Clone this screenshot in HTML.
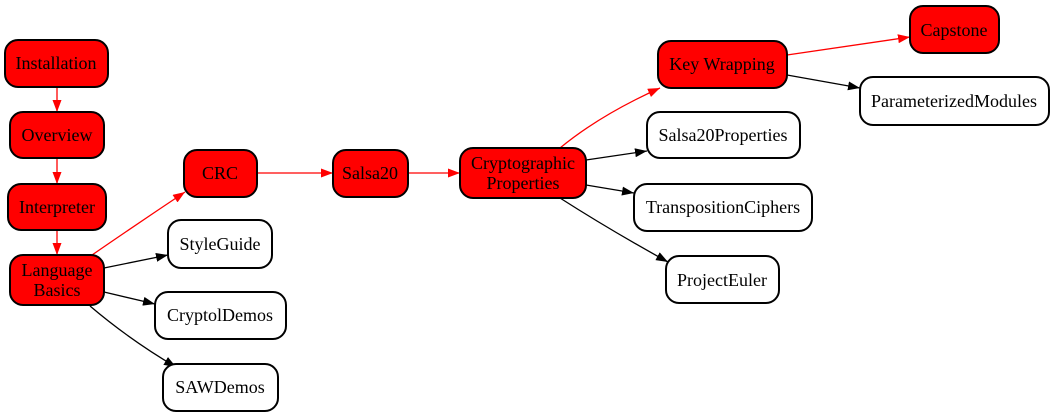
<!DOCTYPE html>
<html><head><style>
body{margin:0;background:#fff;}
svg{display:block;}
text{font-family:"Liberation Serif","DejaVu Serif",serif;font-size:18px;text-anchor:middle;}
</style></head><body>
<svg width="1056" height="419" viewBox="0 0 1056 419" xmlns="http://www.w3.org/2000/svg">
<defs>
<marker id="ar" markerWidth="12" markerHeight="9" refX="12" refY="4.5" orient="auto" markerUnits="userSpaceOnUse"><path d="M0,0 L12,4.5 L0,9 Z" fill="#f00"/></marker>
<marker id="ab" markerWidth="12" markerHeight="9" refX="12" refY="4.5" orient="auto" markerUnits="userSpaceOnUse"><path d="M0,0 L12,4.5 L0,9 Z" fill="#000"/></marker>
</defs>
<g fill="none" stroke-width="1.3">
<path d="M57,87 L57,112" stroke="#f00" marker-end="url(#ar)"/>
<path d="M57,158 L57,184" stroke="#f00" marker-end="url(#ar)"/>
<path d="M57,230 L57,255" stroke="#f00" marker-end="url(#ar)"/>
<path d="M92,255 Q140,222 185,192" stroke="#f00" marker-end="url(#ar)"/>
<path d="M104,268 L168,255" stroke="#000" marker-end="url(#ab)"/>
<path d="M104,292 L155,304" stroke="#000" marker-end="url(#ab)"/>
<path d="M90,306 Q130,340 176,367" stroke="#000" marker-end="url(#ab)"/>
<path d="M257,173 L333,173" stroke="#f00" marker-end="url(#ar)"/>
<path d="M408,173 L460,173" stroke="#f00" marker-end="url(#ar)"/>
<path d="M560,148 Q600,115 660,88" stroke="#f00" marker-end="url(#ar)"/>
<path d="M586,160 L647,151" stroke="#000" marker-end="url(#ab)"/>
<path d="M586,185 L634,193" stroke="#000" marker-end="url(#ab)"/>
<path d="M560,198 Q610,230 668,262" stroke="#000" marker-end="url(#ab)"/>
<path d="M787,55 L910,37" stroke="#f00" marker-end="url(#ar)"/>
<path d="M787,75 L860,88" stroke="#000" marker-end="url(#ab)"/>
</g>
<g stroke="#000" stroke-width="2">
<rect x="5" y="40" width="103" height="47" rx="13" fill="#f00"/>
<rect x="10" y="112" width="94" height="46" rx="13" fill="#f00"/>
<rect x="8" y="184" width="98" height="46" rx="13" fill="#f00"/>
<rect x="10" y="255" width="94" height="50" rx="13" fill="#f00"/>
<rect x="184" y="150" width="73" height="47" rx="13" fill="#f00"/>
<rect x="168" y="220" width="104" height="48" rx="13" fill="#fff"/>
<rect x="155" y="292" width="131" height="47" rx="13" fill="#fff"/>
<rect x="163" y="364" width="115" height="47" rx="13" fill="#fff"/>
<rect x="333" y="150" width="75" height="47" rx="13" fill="#f00"/>
<rect x="460" y="148" width="126" height="50" rx="13" fill="#f00"/>
<rect x="658" y="41" width="129" height="47" rx="13" fill="#f00"/>
<rect x="647" y="112" width="153" height="46" rx="13" fill="#fff"/>
<rect x="634" y="184" width="178" height="47" rx="13" fill="#fff"/>
<rect x="666" y="256" width="113" height="47" rx="13" fill="#fff"/>
<rect x="910" y="6" width="89" height="47" rx="13" fill="#f00"/>
<rect x="860" y="77" width="189" height="48" rx="13" fill="#fff"/>
</g>
<g fill="#000">
<text x="56" y="69">Installation</text>
<text x="57" y="141">Overview</text>
<text x="57" y="213">Interpreter</text>
<text x="57" y="276">Language</text>
<text x="57" y="296">Basics</text>
<text x="220" y="179">CRC</text>
<text x="220" y="250">StyleGuide</text>
<text x="220" y="321">CryptolDemos</text>
<text x="220" y="393">SAWDemos</text>
<text x="370" y="179">Salsa20</text>
<text x="523" y="169">Cryptographic</text>
<text x="523" y="189">Properties</text>
<text x="722" y="70">Key Wrapping</text>
<text x="723" y="141">Salsa20Properties</text>
<text x="723" y="213">TranspositionCiphers</text>
<text x="722" y="286">ProjectEuler</text>
<text x="954" y="36">Capstone</text>
<text x="954" y="107">ParameterizedModules</text>
</g>
</svg>
</body></html>
